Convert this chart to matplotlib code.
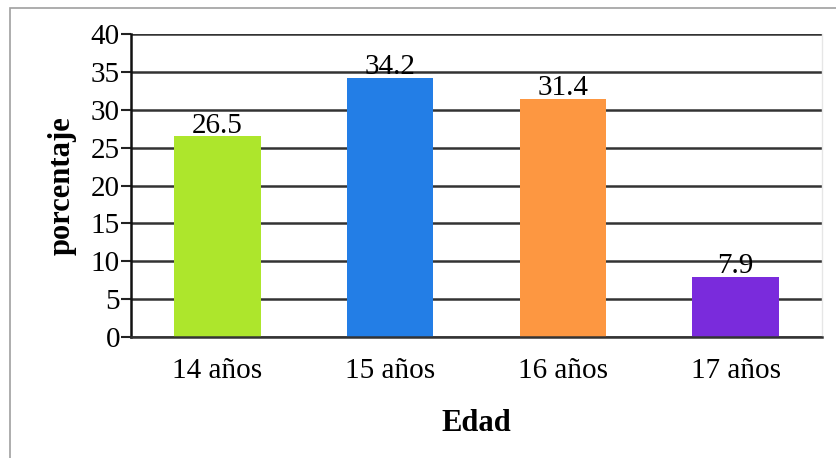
import matplotlib

matplotlib.use("Agg")
import matplotlib.pyplot as plt
import numpy as np
from matplotlib.patches import Rectangle

categories = ["14 años", "15 años", "16 años", "17 años"]
values = [26.5, 34.2, 31.4, 7.9]
colors = ["#ade62c", "#237ee6", "#fd9741", "#7a2bdc"]
yticks = [0, 5, 10, 15, 20, 25, 30, 35, 40]

plt.rcParams["font.family"] = ["Liberation Serif", "DejaVu Serif"]

fig = plt.figure(figsize=(8.36, 4.58), dpi=100)
# gray frame around the chart (top and left edges visible)
fig.patches.append(
    Rectangle((10 / 836, -0.1), 1.2, 1 - 8 / 458 + 0.1, transform=fig.transFigure,
              facecolor="none", edgecolor="#a0a0a0", linewidth=1.2)
)
ax = fig.add_axes([131 / 836, 1 - 337 / 458, (822 - 131) / 836, (337 - 34) / 458])

x = np.arange(len(categories))
ax.set_axisbelow(True)
ax.grid(axis="y", color="#333333", linewidth=1.8)
ax.bar(x, values, 0.5, color=colors, zorder=2)
for xi, v in zip(x, values):
    ax.text(xi, v - 0.3, f"{v}", ha="center", va="bottom", fontsize=21, zorder=3)

ax.set_xlim(-0.5, 3.5)
ax.set_ylim(0, 40)
ax.set_yticks(yticks)
ax.set_xticks(x)
ax.set_xticklabels(categories)
ax.tick_params(axis="y", length=7, width=1.5, labelsize=21, pad=1, color="#222222")
ax.tick_params(axis="x", length=0, labelsize=21, pad=15)
ax.spines["left"].set_linewidth(1.8)
ax.spines["left"].set_color("#111111")
ax.spines["bottom"].set_linewidth(1.8)
ax.spines["bottom"].set_color("#333333")
ax.spines["top"].set_visible(False)
ax.spines["right"].set_color("#e6e6e6")
ax.spines["right"].set_linewidth(1.0)

ax.set_xlabel("Edad", fontsize=22, fontweight="bold", labelpad=18)
ax.set_ylabel("porcentaje", fontsize=22, fontweight="bold", labelpad=10)

fig.savefig("out.png", dpi=100)
